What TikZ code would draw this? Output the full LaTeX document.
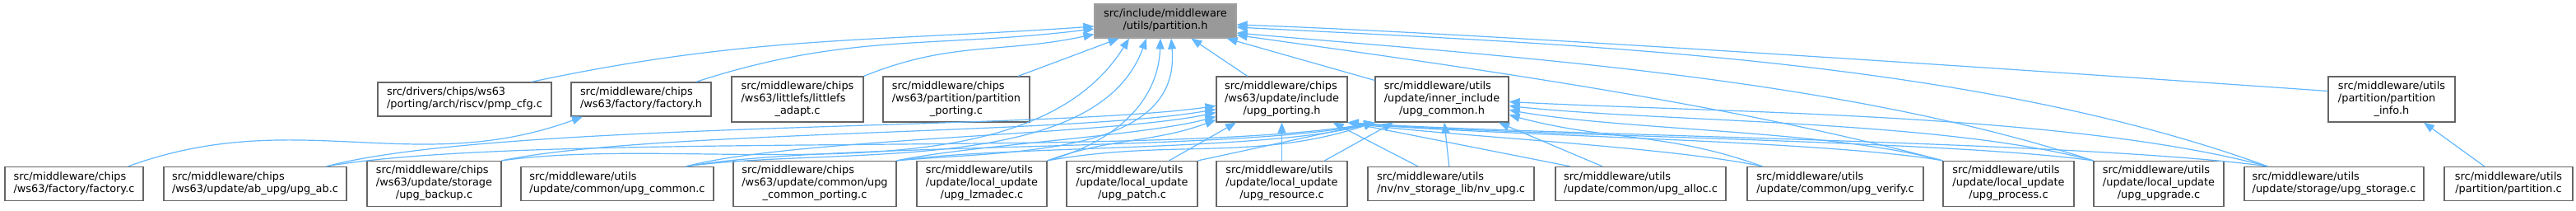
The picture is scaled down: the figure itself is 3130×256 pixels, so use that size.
\documentclass[tikz,border=0pt]{standalone}
\usepackage{fontspec}
\setmainfont{DejaVu Sans}
\usetikzlibrary{arrows.meta,positioning}
\definecolor{edgeblue}{HTML}{63B8FF}
\definecolor{boxedge}{HTML}{666666}
\definecolor{curfill}{HTML}{999999}
\definecolor{curedge}{HTML}{A0A0A0}
% left lines, last line centred (as doxygen sets them)
\newcommand{\flab}[2]{\begin{tabular}{@{}l@{}}#1\\\multicolumn{1}{@{}c@{}}{#2}\end{tabular}}

\begin{document}
\begin{tikzpicture}[x=1pt, y=1pt,
    file/.style={draw=boxedge, line width=1.2pt, fill=white, inner sep=0pt, font=\fontsize{12.9}{15}\selectfont, minimum height=41pt},
    tall/.style={file, minimum height=55pt},
    cur/.style={file, fill=curfill, draw=curedge},
    inc/.style={draw=edgeblue, line width=1.2pt, -{Triangle[length=13pt,width=10pt]}}
]
\path[use as bounding box, fill=white] (0,0) rectangle (3130,256);

% top
\node[cur, minimum width=172pt] (P) at (1416,230.5) {\flab{src/include/middleware}{/utils/partition.h}};

% middle row
\node[file, minimum width=211pt] (pmp) at (564.5,135.5) {\flab{src/drivers/chips/ws63}{/porting/arch/riscv/pmp\_cfg.c}};
\node[file, minimum width=170pt] (facth) at (779,135.5) {\flab{src/middleware/chips}{/ws63/factory/factory.h}};
\node[tall, minimum width=160pt] (littlefs) at (969,135.5) {\flab{src/middleware/chips\\/ws63/littlefs/littlefs}{\_adapt.c}};
\node[tall, minimum width=178pt] (partport) at (1162,135.5) {\flab{src/middleware/chips\\/ws63/partition/partition}{\_porting.c}};
\node[tall, minimum width=159pt] (UP) at (1557.5,135.5) {\flab{src/middleware/chips\\/ws63/update/include}{/upg\_porting.h}};
\node[tall, minimum width=162pt] (UC) at (1752,135.5) {\flab{src/middleware/utils\\/update/inner\_include}{/upg\_common.h}};
\node[tall, minimum width=154pt] (pinfo) at (2906,135.5) {\flab{src/middleware/utils\\/partition/partition}{\_info.h}};

% bottom row
\node[file, minimum width=168pt] (factc) at (90,33) {\flab{src/middleware/chips}{/ws63/factory/factory.c}};
\node[file, minimum width=222pt] (upgab) at (310,33) {\flab{src/middleware/chips}{/ws63/update/ab\_upg/upg\_ab.c}};
\node[tall, minimum width=163pt] (backup) at (527.5,33) {\flab{src/middleware/chips\\/ws63/update/storage}{/upg\_backup.c}};
\node[file, minimum width=234pt] (ucomc) at (750,33) {\flab{src/middleware/utils}{/update/common/upg\_common.c}};
\node[tall, minimum width=198pt] (cport) at (990,33) {\flab{src/middleware/chips\\/ws63/update/common/upg}{\_common\_porting.c}};
\node[tall, minimum width=158pt] (lzma) at (1193,33) {\flab{src/middleware/utils\\/update/local\_update}{/upg\_lzmadec.c}};
\node[tall, minimum width=159pt] (patch) at (1375.5,33) {\flab{src/middleware/utils\\/update/local\_update}{/upg\_patch.c}};
\node[tall, minimum width=159pt] (resource) at (1557.5,33) {\flab{src/middleware/utils\\/update/local\_update}{/upg\_resource.c}};
\node[file, minimum width=202pt] (nvupg) at (1763,33) {\flab{src/middleware/utils}{/nv/nv\_storage\_lib/nv\_upg.c}};
\node[file, minimum width=207pt] (alloc) at (1993.5,33) {\flab{src/middleware/utils}{/update/common/upg\_alloc.c}};
\node[file, minimum width=214pt] (verify) at (2230,33) {\flab{src/middleware/utils}{/update/common/upg\_verify.c}};
\node[tall, minimum width=159pt] (process) at (2440.5,33) {\flab{src/middleware/utils\\/update/local\_update}{/upg\_process.c}};
\node[tall, minimum width=158pt] (upgrade) at (2623,33) {\flab{src/middleware/utils\\/update/local\_update}{/upg\_upgrade.c}};
\node[file, minimum width=218pt] (storage) at (2836,33) {\flab{src/middleware/utils}{/update/storage/upg\_storage.c}};
\node[file, minimum width=156pt] (partc) at (3048,33) {\flab{src/middleware/utils}{/partition/partition.c}};

% includes of partition.h
\draw[inc] ([xshift=-25pt]pmp.north east) .. controls +(12:270) and +(184:270) .. ([yshift=-6.5pt]P.west);
\draw[inc] ([xshift=-19pt]facth.north east) .. controls +(18:195) and +(187:195) .. ([yshift=-9.5pt]P.west);
\draw[inc] (littlefs.north east) .. controls +(22:115) and +(192:115) .. ([yshift=-16pt]P.west);
\draw[inc] (partport) -- (P);
\draw[inc] (backup.north east) .. controls +(8:240) and +(238:240) .. ([xshift=-44pt]P.south);
\draw[inc] ([xshift=-34pt]ucomc.north east) .. controls +(8:180) and +(250:180) .. ([xshift=-23pt]P.south);
\draw[inc] (lzma.north east) .. controls +(15:80) and +(268:80) .. ([xshift=-6pt]P.south);
\draw[inc] (cport.north east) .. controls +(5:143) and +(275:143) .. ([xshift=7pt]P.south);
\draw[inc] (UP) -- (P);
\draw[inc] (UC) -- (P);
\draw[inc] ([yshift=10pt]pinfo.west) .. controls +(176:310) and +(-2:310) .. ([yshift=-4.5pt]P.east);
\draw[inc] ([xshift=29pt]storage.north west) .. controls +(160:390) and +(-3:390) .. ([yshift=-7.5pt]P.east);
\draw[inc] (upgrade.north west) .. controls +(162:330) and +(-5:330) .. ([yshift=-14.5pt]P.east);
\draw[inc] (process.north west) .. controls +(165:270) and +(-8:270) .. ([yshift=-17pt]P.east);

% includes of upg_porting.h
\draw[inc] ([xshift=-25pt]upgab.north east) .. controls +(15:210) and +(188:210) .. ([yshift=-8pt]UP.west);
\draw[inc] (backup.north east) .. controls +(12:175) and +(190:175) .. ([yshift=-12pt]UP.west);
\draw[inc] ([xshift=-34pt]ucomc.north east) .. controls +(15:130) and +(192:130) .. ([yshift=-16pt]UP.west);
\draw[inc] (cport.north east) .. controls +(12:90) and +(195:90) .. ([yshift=-21pt]UP.west);
\draw[inc] (lzma.north east) .. controls +(20:83) and +(200:83) .. ([yshift=-25pt]UP.west);
\draw[inc] ([xshift=45pt]patch.north) -- ([xshift=-55.5pt]UP.south);
\draw[inc] (resource) -- (UP);
\draw[inc] ([xshift=-40pt]nvupg.north) -- ([xshift=62pt]UP.south);
\draw[inc] ([xshift=-85.5pt]alloc.north) -- (UP.south east);
\draw[inc] ([xshift=19pt]verify.north west) .. controls +(168:118) and +(-8:118) .. (UP.south east);
\draw[inc] (process.north west) .. controls +(170:145) and +(-6:145) .. (UP.south east);
\draw[inc] (upgrade.north west) .. controls +(172:180) and +(-5:180) .. (UP.south east);
\draw[inc] ([xshift=29pt]storage.north west) .. controls +(172:220) and +(-4:220) .. (UP.south east);

% includes of upg_common.h
\draw[inc] ([xshift=-25pt]upgab.north east) .. controls +(10:250) and +(190:250) .. (UC.south west);
\draw[inc] ([xshift=-34pt]ucomc.north east) .. controls +(10:170) and +(192:170) .. (UC.south west);
\draw[inc] (cport.north east) .. controls +(8:135) and +(195:135) .. (UC.south west);
\draw[inc] (lzma.north east) .. controls +(10:155) and +(198:155) .. (UC.south west);
\draw[inc] (patch.north east) -- (UC.south west);
\draw[inc] ([xshift=52pt]resource.north) -- ([xshift=-59pt]UC.south);
\draw[inc] (nvupg) -- (UC);
\draw[inc] ([xshift=-46.5pt]alloc.north) -- ([xshift=69pt]UC.south);
\draw[inc] ([xshift=19pt]verify.north west) .. controls +(160:123) and +(-15:123) .. ([yshift=-19pt]UC.east);
\draw[inc] (process.north west) .. controls +(165:145) and +(-10:145) .. ([yshift=-13pt]UC.east);
\draw[inc] (upgrade.north west) .. controls +(165:190) and +(-6:190) .. ([yshift=-8pt]UC.east);
\draw[inc] ([xshift=29pt]storage.north west) .. controls +(165:250) and +(-3:250) .. ([yshift=-3pt]UC.east);

% includes of factory.h and partition_info.h
\draw[inc] ([xshift=-19pt]factc.north east) .. controls +(20:217) and +(200:217) .. ([xshift=-71pt]facth.south);
\draw[inc] (partc) -- (pinfo);
\end{tikzpicture}
\end{document}
